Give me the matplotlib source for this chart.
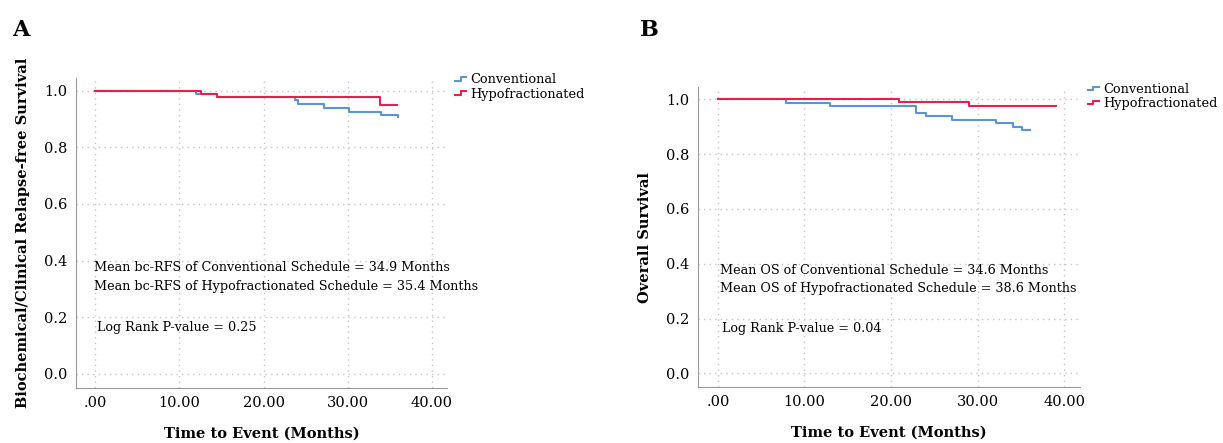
import numpy as np
import matplotlib
matplotlib.use("Agg")
import matplotlib.pyplot as plt
from matplotlib.lines import Line2D
from matplotlib.legend_handler import HandlerBase

plt.rcParams['font.family'] = ['DejaVu Serif']

# panel A : biochemical / clinical relapse-free survival
a_conv_t = [0, 12.0, 14.5, 23.7, 24.1, 27.2, 30.1, 33.9, 36.0]
a_conv_s = [1.0, 0.987, 0.978, 0.966, 0.953, 0.939, 0.925, 0.913, 0.908]
a_hypo_t = [0, 12.6, 14.5, 33.8, 35.9]
a_hypo_s = [1.0, 0.99, 0.978, 0.95, 0.95]

# panel B : overall survival
b_conv_t = [0, 7.9, 13.0, 22.9, 24.0, 27.0, 32.1, 34.1, 35.1, 36.0]
b_conv_s = [1.0, 0.988, 0.976, 0.95, 0.94, 0.926, 0.914, 0.90, 0.887, 0.887]
b_hypo_t = [0, 20.9, 29.0, 39.0]
b_hypo_s = [1.0, 0.99, 0.975, 0.975]

x_ticks = [0, 10, 20, 30, 40]
x_labels = [".00", "10.00", "20.00", "30.00", "40.00"]
y_ticks = [0.0, 0.2, 0.4, 0.6, 0.8, 1.0]
legend_names = ["Conventional", "Hypofractionated"]

blue = "#5b95d8"
red = "#e3214a"


class StepHandler(HandlerBase):
    def create_artists(self, legend, orig, xd, yd, w, h, fs, trans):
        x = [xd, xd + w * 0.5, xd + w * 0.5, xd + w]
        y = [yd + h * 0.3, yd + h * 0.3, yd + h * 0.7, yd + h * 0.7]
        ln = Line2D(x, y, color=orig.get_color(), lw=1.5, transform=trans)
        return [ln]


def km_panel(ax, ct, cs, ht, hs, ylabel, notes, pval, note_x):
    l1, = ax.step(ct, cs, where="post", color=blue, lw=1.5)
    l2, = ax.step(ht, hs, where="post", color=red, lw=1.5)
    ax.set_ylim(-0.05, 1.045)
    ax.set_xlim(-2.3, 41.8)
    ax.set_xticks(x_ticks)
    ax.set_xticklabels(x_labels)
    ax.set_yticks(y_ticks)
    ax.set_yticklabels(["%.1f" % v for v in y_ticks])
    ax.tick_params(length=0, labelsize=10.5, pad=6)
    ax.grid(True, ls=(0, (1, 3)), color="#c4c4c4", lw=1)
    for s in ["top", "right"]:
        ax.spines[s].set_visible(False)
    for s in ["left", "bottom"]:
        ax.spines[s].set_color("#999999")
    ax.set_xlabel("Time to Event (Months)", fontweight="bold", fontsize=10.5, labelpad=12)
    ax.set_ylabel(ylabel, fontweight="bold", fontsize=10.5, labelpad=10)
    ax.text(note_x, 0.375, notes[0], fontsize=9.2, va="center")
    ax.text(note_x, 0.31, notes[1], fontsize=9.2, va="center")
    ax.text(note_x + 0.3, 0.165, pval, fontsize=9.2, va="center")
    ax.legend([l1, l2], legend_names, handler_map={Line2D: StepHandler()},
              loc="upper left", bbox_to_anchor=(1.0, 1.04), frameon=False,
              fontsize=9.3, handlelength=0.9, handletextpad=0.3,
              labelspacing=0.1, borderaxespad=0.2)


fig = plt.figure(figsize=(12.23, 4.43), dpi=100)
axA = fig.add_axes([0.0621, 0.124, 0.3034, 0.700])
axB = fig.add_axes([0.5707, 0.1264, 0.3123, 0.677])

km_panel(axA, a_conv_t, a_conv_s, a_hypo_t, a_hypo_s,
         "Biochemical/Clinical Relapse-free Survival",
         ["Mean bc-RFS of Conventional Schedule = 34.9 Months",
          "Mean bc-RFS of Hypofractionated Schedule = 35.4 Months"],
         "Log Rank P-value = 0.25", -0.1)
km_panel(axB, b_conv_t, b_conv_s, b_hypo_t, b_hypo_s,
         "Overall Survival",
         ["Mean OS of Conventional Schedule = 34.6 Months",
          "Mean OS of Hypofractionated Schedule = 38.6 Months"],
         "Log Rank P-value = 0.04", 0.2)

fig.text(0.010, 0.918, "A", fontsize=16, fontweight="bold")
fig.text(0.523, 0.918, "B", fontsize=16, fontweight="bold")

fig.savefig("out.png", dpi=100)
